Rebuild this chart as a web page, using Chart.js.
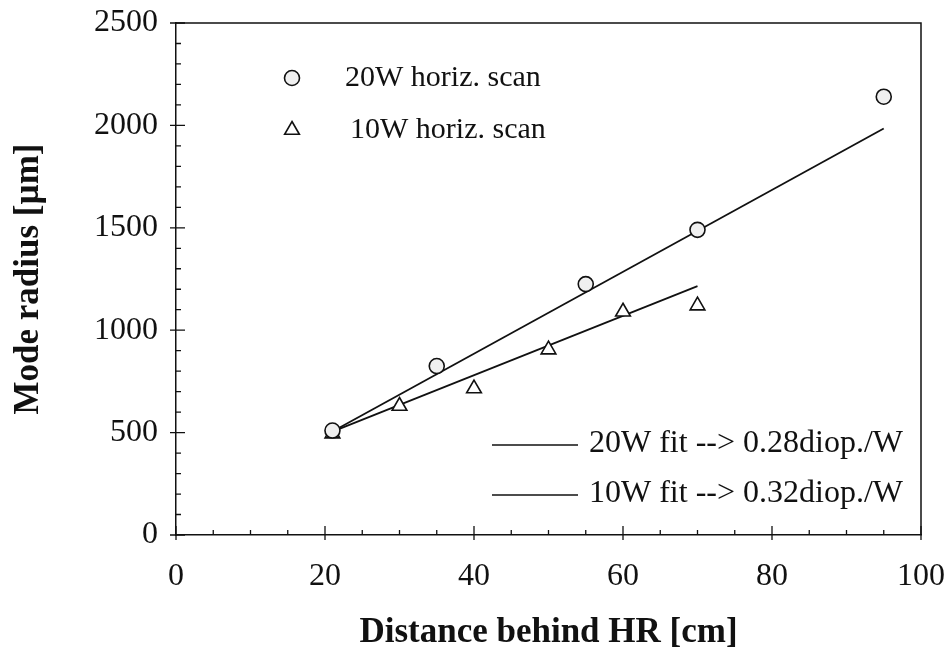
<!DOCTYPE html>
<html>
<head>
<meta charset="utf-8">
<script src="https://cdn.jsdelivr.net/npm/chart.js@4/dist/chart.umd.min.js"></script>
<style>
  html, body { margin: 0; padding: 0; background: #fff; }
  #wrap { width: 951px; height: 650px; }
</style>
</head>
<body>
<div id="wrap"><canvas id="myChart" width="951" height="650"></canvas></div>
<script>
// measured points (distance in cm, mode radius in um)
var scan20x = [21, 35, 55, 70, 95];
var scan20y = [510, 825, 1225, 1490, 2140];
var scan10x = [21, 30, 40, 50, 60, 70];
var scan10y = [495, 630, 715, 905, 1090, 1120];

// fit lines, end points
var fit20x = [21, 95];
var fit20y = [505, 1985];
var fit10x = [21, 70];
var fit10y = [505, 1215];

var xTicks = [0, 20, 40, 60, 80, 100];
var yTicks = [0, 500, 1000, 1500, 2000, 2500];

var legendTop = ['20W horiz. scan', '10W horiz. scan'];
var legendBottom = ['20W fit --> 0.28diop./W', '10W fit --> 0.32diop./W'];

function pts(xs, ys) {
    return xs.map(function (x, i) { return { x: x, y: ys[i] }; });
}

var serif = "'Liberation Serif', 'Times New Roman', serif";

// inward tick marks + box frame
var frame = {
    id: 'frame',
    afterDraw: function (chart) {
        var ctx = chart.ctx;
        var a = chart.chartArea;
        var xs = chart.scales.x, ys = chart.scales.y;
        ctx.save();
        ctx.strokeStyle = '#111';
        ctx.lineWidth = 1.5;
        ctx.beginPath();
        ctx.moveTo(a.left, a.top); ctx.lineTo(a.right, a.top);
        ctx.lineTo(a.right, a.bottom);
        ctx.stroke();
        ctx.lineWidth = 1.3;
        ctx.beginPath();
        for (var v = 0; v <= 100; v += 5) {
            var px = xs.getPixelForValue(v);
            if (v % 20 === 0) { ctx.moveTo(px, a.bottom + 5); ctx.lineTo(px, a.bottom - 9); }
            else { ctx.moveTo(px, a.bottom); ctx.lineTo(px, a.bottom - 5); }
        }
        for (var w = 0; w <= 2500; w += 100) {
            var py = ys.getPixelForValue(w);
            if (w % 500 === 0) { ctx.moveTo(a.left - 6, py); ctx.lineTo(a.left + 9, py); }
            else { ctx.moveTo(a.left, py); ctx.lineTo(a.left + 5, py); }
        }
        ctx.stroke();
        ctx.restore();
    }
};

// legends drawn inside the plot like in the original figure
var legends = {
    id: 'legends',
    afterDraw: function (chart) {
        var ctx = chart.ctx;
        var ds = chart.data.datasets;
        ctx.save();
        ctx.fillStyle = '#111';
        ctx.font = '30px ' + serif;
        ctx.textBaseline = 'middle';
        ctx.textAlign = 'left';
        var mx = 292;
        var rows = [78, 130];
        for (var i = 0; i < 2; i++) {
            ctx.fillStyle = ds[i].backgroundColor;
            ctx.strokeStyle = ds[i].borderColor;
            ctx.lineWidth = ds[i].borderWidth;
            Chart.helpers.drawPoint(ctx, {
                pointStyle: ds[i].pointStyle,
                radius: ds[i].pointRadius,
                borderWidth: ds[i].borderWidth
            }, mx, rows[i]);
            ctx.fillStyle = '#111';
            ctx.fillText(legendTop[i], i === 0 ? 345 : 350, rows[i]);
        }
        ctx.font = '32px ' + serif;
        var rows2 = [444, 494];
        for (var j = 0; j < 2; j++) {
            ctx.strokeStyle = '#111';
            ctx.lineWidth = 1.6;
            ctx.beginPath();
            ctx.moveTo(492, rows2[j] + 1); ctx.lineTo(578, rows2[j] + 1);
            ctx.stroke();
            ctx.fillText(legendBottom[j], 589, rows2[j]);
        }
        ctx.restore();
    }
};

var ctx = document.getElementById('myChart');
var myChart = new Chart(ctx, {
    type: 'scatter',
    data: {
        datasets: [
            {
                label: legendTop[0],
                data: pts(scan20x, scan20y),
                pointStyle: 'circle',
                pointRadius: 7.5,
                borderWidth: 1.6,
                borderColor: '#111',
                backgroundColor: '#f0f0f0'
            },
            {
                label: legendTop[1],
                data: pts(scan10x, scan10y),
                pointStyle: 'triangle',
                pointRadius: 8.5,
                borderWidth: 1.6,
                borderColor: '#111',
                backgroundColor: '#fff'
            },
            {
                label: legendBottom[0],
                data: pts(fit20x, fit20y),
                showLine: true,
                pointRadius: 0,
                borderWidth: 1.8,
                borderColor: '#111'
            },
            {
                label: legendBottom[1],
                data: pts(fit10x, fit10y),
                showLine: true,
                pointRadius: 0,
                borderWidth: 1.8,
                borderColor: '#111'
            }
        ]
    },
    options: {
        responsive: false,
        animation: false,
        layout: { padding: { top: 23, right: 30, left: 0, bottom: 0 } },
        plugins: {
            legend: { display: false },
            tooltip: { enabled: false }
        },
        scales: {
            x: {
                type: 'linear',
                min: 0, max: 100,
                afterBuildTicks: function (s) { s.ticks = xTicks.map(function (v) { return { value: v }; }); },
                afterFit: function (s) { s.height = 115; s.paddingLeft = 0; s.paddingRight = 0; },
                grid: { display: false },
                border: { display: true, color: '#111', width: 1.5 },
                ticks: { color: '#111', padding: 14, font: { family: serif, size: 32 } },
                title: {
                    display: true,
                    text: 'Distance behind HR [cm]',
                    color: '#111',
                    padding: { top: 0, bottom: 0 },
                    font: { family: serif, size: 35, weight: 'bold', lineHeight: 1.0 }
                }
            },
            y: {
                type: 'linear',
                min: 0, max: 2500,
                afterBuildTicks: function (s) { s.ticks = yTicks.map(function (v) { return { value: v }; }); },
                afterFit: function (s) { s.width = 176; s.paddingTop = 0; s.paddingBottom = 0; },
                grid: { display: false },
                border: { display: true, color: '#111', width: 1.5 },
                ticks: {
                    color: '#111', padding: 10, font: { family: serif, size: 32 },
                    callback: function (v) { return String(v); }
                },
                title: {
                    display: true,
                    text: 'Mode radius [\u00b5m]',
                    color: '#111',
                    padding: { top: 8, bottom: 0 },
                    font: { family: serif, size: 35, weight: 'bold' }
                }
            }
        }
    },
    plugins: [frame, legends]
});
</script>
</body>
</html>
